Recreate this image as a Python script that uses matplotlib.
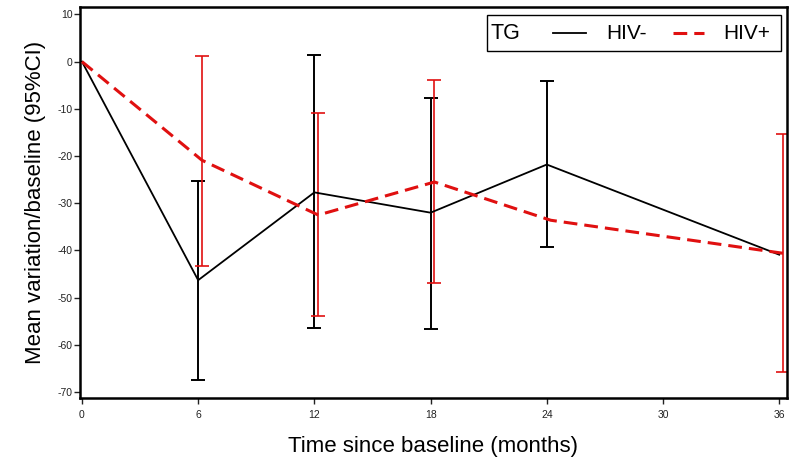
import numpy as np
import matplotlib
matplotlib.use('Agg')
import matplotlib.pyplot as plt
from matplotlib.lines import Line2D

plt.rcParams['font.family'] = ['Liberation Sans', 'DejaVu Sans']
plt.rcParams['axes.unicode_minus'] = False

months = [0, 6, 12, 18, 24, 36]

# HIV- (black)
neg_mean = [0, -46.3, -27.7, -32.0, -21.8, -40.9]
neg_low = [np.nan, -67.5, -56.4, -56.6, -39.3, np.nan]
neg_high = [np.nan, -25.3, 1.4, -7.8, -4.1, np.nan]

# HIV+ (red)
pos_mean = [0, -20.9, -32.5, -25.5, -33.6, -40.6]
pos_low = [np.nan, -43.3, -53.9, -47.0, np.nan, -65.8]
pos_high = [np.nan, 1.2, -10.9, -3.8, np.nan, -15.3]

xticks = [0, 6, 12, 18, 24, 30, 36]
yticks = [10, 0, -10, -20, -30, -40, -50, -60, -70]

red = '#e01010'
shift = 0.2  # small horizontal offset of the HIV+ series

fig = plt.figure(figsize=(7.97, 4.59), dpi=100)
ax = fig.add_axes([0.1004, 0.1335, 0.887, 0.8505])

x_neg = np.array(months, dtype=float)
x_pos = x_neg + shift
x_pos[0] = 0

nm = np.array(neg_mean)
pm = np.array(pos_mean)
neg_err = [nm - np.array(neg_low), np.array(neg_high) - nm]
pos_err = [pm - np.array(pos_low), np.array(pos_high) - pm]

ax.errorbar(x_neg, nm, yerr=neg_err, fmt='none', ecolor='black',
            elinewidth=1.4, capsize=5, capthick=1.4, zorder=2)
ax.plot(x_neg, nm, '-', color='black', linewidth=1.3, zorder=3)

ax.errorbar(x_pos, pm, yerr=pos_err, fmt='none', ecolor=red,
            elinewidth=1.2, capsize=5, capthick=1.2, zorder=2)
ax.plot(x_pos, pm, '--', color=red, linewidth=2.2, dashes=(4.5, 2.3), zorder=4)

ax.set_xlim(-0.1, 36.4)
ax.set_ylim(-71.2, 11.5)
ax.set_xticks(xticks)
ax.set_yticks(yticks)
ax.tick_params(axis='both', labelsize=7.5, colors='#222222', length=4,
               width=1, direction='out')
ax.tick_params(axis='x', pad=5)
ax.tick_params(axis='y', pad=1.5)
for s in ax.spines.values():
    s.set_linewidth(1.8)
    s.set_color('black')

ax.set_xlabel('Time since baseline (months)', fontsize=16, labelpad=11)
ax.set_ylabel('Mean variation/baseline (95%CI)', fontsize=16, labelpad=8)

# legend drawn as a boxed row: TG  ——  HIV-  - -  HIV+
tr = ax.transAxes
ax.add_patch(plt.Rectangle((0.576, 0.887), 0.416, 0.093, transform=tr,
                           facecolor='white', edgecolor='black', linewidth=1, zorder=5))
ax.text(0.581, 0.933, 'TG', transform=tr, fontsize=15.5, va='center', zorder=6)
ax.add_line(Line2D([0.669, 0.716], [0.933, 0.933], transform=tr, color='black',
                   linewidth=1.3, zorder=6))
ax.text(0.745, 0.933, 'HIV-', transform=tr, fontsize=15, va='center', zorder=6)
ax.add_line(Line2D([0.839, 0.882], [0.933, 0.933], transform=tr, color=red,
                   linewidth=2.2, linestyle='--', dashes=(4.5, 2.3), zorder=6))
ax.text(0.910, 0.933, 'HIV+', transform=tr, fontsize=15, va='center', zorder=6)

fig.savefig('out.png', dpi=100)
